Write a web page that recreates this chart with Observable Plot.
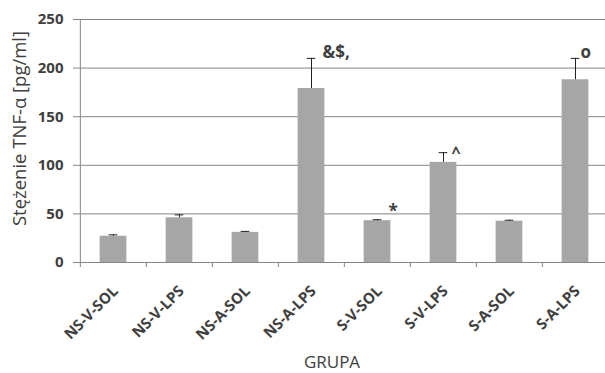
<!DOCTYPE html>
<html>
<head>
<meta charset="utf-8">
<script src="https://cdn.jsdelivr.net/npm/d3@7"></script>
<script src="https://cdn.jsdelivr.net/npm/@observablehq/plot@0.6"></script>
<style>
  html, body { margin: 0; padding: 0; background: #fff; }
  #chart svg { display: block; }
</style>
</head>
<body>
<div id="chart"></div>
<script>
const groups = ["NS-V-SOL", "NS-V-LPS", "NS-A-SOL", "NS-A-LPS", "S-V-SOL", "S-V-LPS", "S-A-SOL", "S-A-LPS"];
const means  = [27, 46, 31, 179, 43, 103, 42.5, 188];
const errors = [1.5, 3, 1, 31, 1, 10, 1, 22];
const notes  = ["", "", "", "&$,", "*", "^", "", "o"];
const yTicks = [0, 50, 100, 150, 200, 250];
const yTitle = "Stężenie TNF-α [pg/ml]";
const xTitle = "GRUPA";

const data = groups.map((g, i) => ({group: g, mean: means[i], err: errors[i], top: means[i] + errors[i], note: notes[i]}));

const W = 605, H = 373;
const x0 = 78.7, x1 = 609;
const bw = (x1 - x0) / groups.length;
const barW = 27, capW = 9;
const font = "'Open Sans', Lato, sans-serif";
const textCol = "#404040";

function noteMark(n, dx, dy, size) {
  return Plot.text(data.filter(d => d.note === n), {
    x: "group", y: "top", text: "note", textAnchor: "start",
    dx, dy, fontSize: size, fontWeight: "bold", fill: textCol
  });
}

const chart = Plot.plot({
  width: W, height: H,
  marginLeft: 78, marginRight: 0, marginTop: 19, marginBottom: 111,
  style: {fontFamily: font, background: "#fff"},
  x: {domain: groups, range: [x0, x1], padding: 0, axis: null},
  y: {domain: [0, 250], axis: null},
  marks: [
    Plot.gridY(yTicks, {stroke: "#868686", strokeOpacity: 1, strokeWidth: 1}),
    Plot.axisY(yTicks, {tickSize: 5, tickPadding: 10, stroke: "#868686", fontSize: 15, fontWeight: "bold", fill: textCol, label: null}),
    Plot.ruleX(groups.slice(0, 1), {x: d => d, dx: -bw / 2, stroke: "#868686"}),
    Plot.ruleX(groups, {x: d => d, dx: -bw / 2, y1: 0, y2: 0, insetBottom: -5, stroke: "#868686"}),
    Plot.ruleY([0], {stroke: "#868686"}),
    Plot.rectY(data, {x: "group", y: "mean", fill: "#a6a6a6", insetLeft: (bw - barW) / 2, insetRight: (bw - barW) / 2}),
    Plot.ruleX(data, {x: "group", y1: "mean", y2: "top", stroke: "#222", strokeWidth: 1}),
    Plot.tickY(data, {x: "group", y: "top", stroke: "#222", strokeWidth: 1, insetLeft: (bw - capW) / 2, insetRight: (bw - capW) / 2}),
    noteMark("&$,", 11, -6, 17),
    noteMark("*", 11, -8, 17),
    noteMark("^", 8, 0, 16),
    noteMark("o", 5, -6, 17),
    Plot.text(groups, {x: d => d, y: 0, text: d => d, rotate: -45, textAnchor: "end", dx: 2, dy: 26, fontSize: 15, fontWeight: "bold", fill: textCol}),
    Plot.text([yTitle], {frameAnchor: "left", rotate: -90, textAnchor: "middle", lineAnchor: "middle", dx: -58, dy: -12.5, fontSize: 18.5, fill: textCol}),
    Plot.text([xTitle], {frameAnchor: "bottom", lineAnchor: "middle", dx: -10, dy: 100, fontSize: 17, fill: textCol})
  ]
});
document.getElementById("chart").appendChild(chart);
</script>
</body>
</html>
